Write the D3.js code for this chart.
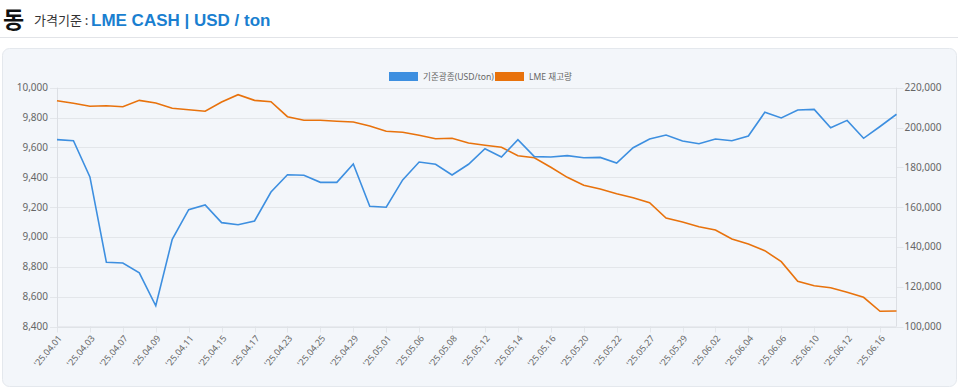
<!DOCTYPE html>
<html><head><meta charset="utf-8">
<script src="https://cdn.jsdelivr.net/npm/d3@7"></script>
<style>
body{margin:0;background:#fff;font-family:"Noto Sans","Noto Sans CJK KR",sans-serif;}
svg{display:block}
</style></head><body>
<svg id="c" width="960" height="390"></svg>
<script>
const dates = ["'25.04.01","'25.04.02","'25.04.03","'25.04.04","'25.04.07","'25.04.08","'25.04.09","'25.04.10","'25.04.11","'25.04.14","'25.04.15","'25.04.16","'25.04.17","'25.04.22","'25.04.23","'25.04.24","'25.04.25","'25.04.28","'25.04.29","'25.04.30","'25.05.01","'25.05.02","'25.05.06","'25.05.07","'25.05.08","'25.05.09","'25.05.12","'25.05.13","'25.05.14","'25.05.15","'25.05.16","'25.05.19","'25.05.20","'25.05.21","'25.05.22","'25.05.23","'25.05.27","'25.05.28","'25.05.29","'25.05.30","'25.06.02","'25.06.03","'25.06.04","'25.06.05","'25.06.06","'25.06.09","'25.06.10","'25.06.11","'25.06.12","'25.06.13","'25.06.16","'25.06.17"];
const priceValues = [9652,9645,9402,8830,8825,8760,8539,8984,9183,9214,9096,9082,9107,9301,9417,9413,9366,9366,9489,9205,9199,9382,9502,9487,9415,9487,9591,9536,9652,9538,9536,9545,9531,9533,9495,9598,9656,9683,9643,9625,9656,9645,9676,9835,9797,9851,9855,9732,9781,9661,9740,9822];
const stockValues = [213470,212160,210650,210960,210450,213650,212300,209640,208950,208140,212810,216480,213650,212960,205430,203620,203620,203120,202760,200750,198090,197590,196080,194380,194570,192210,191050,190050,185830,184830,180000,174970,170960,169100,166740,164730,162210,154520,152510,150150,148490,143970,141460,138090,132570,122710,120500,119500,117190,114680,107640,107790];
const leftTicks = [8400,8600,8800,9000,9200,9400,9600,9800,10000];
const rightTicks = [100000,120000,140000,160000,180000,200000,220000];
const seriesNames = ["기준광종(USD/ton)","LME 재고량"];
const colors = ["#3d8fe0","#e8720c"];

const svg = d3.select("#c");
// header
svg.append("text").attr("x",3).attr("y",28).attr("font-size",23).attr("font-weight","bold")
  .attr("font-family","'Noto Sans CJK KR'").attr("fill","#111").text("동");
svg.append("text").attr("x",34).attr("y",25).attr("font-size",13).attr("fill","#333")
  .attr("font-family","'Noto Sans CJK KR'").text("가격기준 :");
svg.append("text").attr("x",91).attr("y",25.5).attr("font-size",17).attr("font-weight","bold")
  .attr("fill","#1a7fd0").attr("font-family","'Liberation Sans',Arial,sans-serif").text("LME CASH | USD / ton");
svg.append("line").attr("x1",0).attr("x2",958).attr("y1",37.5).attr("y2",37.5).attr("stroke","#e2e4e8");
// container
svg.append("rect").attr("x",2.5).attr("y",48.5).attr("width",954).attr("height",338).attr("rx",7)
  .attr("fill","#f3f6fa").attr("stroke","#e4e8ed");

const L=57, R=896.5, T=87.7, B=326.5;
const x = d3.scalePoint().domain(dates).range([L,R]);
const yL = d3.scaleLinear().domain([8400,10000]).range([B,T]);
const yR = d3.scaleLinear().domain([100000,220000]).range([B,T]);
const fmt = d3.format(",");

// grid
const g = svg.append("g");
g.selectAll(".gl").data(leftTicks).join("line").attr("x1",L-7).attr("x2",R)
  .attr("y1",d=>Math.round(yL(d))+0.5).attr("y2",d=>Math.round(yL(d))+0.5).attr("stroke","#e3e6ea");
g.selectAll(".gx").data(dates.filter((d,i)=>i%2===0)).join("line")
  .attr("x1",d=>Math.round(x(d))+0.5).attr("x2",d=>Math.round(x(d))+0.5).attr("y1",B).attr("y2",B+6).attr("stroke","#e3e6ea");
g.selectAll(".gr").data(rightTicks).join("line").attr("x1",R).attr("x2",R+7)
  .attr("y1",d=>Math.round(yR(d))+0.5).attr("y2",d=>Math.round(yR(d))+0.5).attr("stroke","#e3e6ea");
g.append("line").attr("x1",L+0.5).attr("x2",L+0.5).attr("y1",T).attr("y2",B).attr("stroke","#dcdfe4");
g.append("line").attr("x1",R).attr("x2",R).attr("y1",T).attr("y2",B).attr("stroke","#dcdfe4");
g.append("line").attr("x1",L).attr("x2",R).attr("y1",B+0.5).attr("y2",B+0.5).attr("stroke","#dcdfe4");

// axis labels
const tf = "'Noto Sans','Noto Sans CJK KR',sans-serif";
g.selectAll(".tl").data(leftTicks).join("text").attr("x",L-9).attr("y",d=>yL(d)).attr("dy","0.35em")
  .attr("text-anchor","end").attr("font-size",10).attr("fill","#666").attr("font-family",tf).text(d=>fmt(d));
g.selectAll(".tr").data(rightTicks).join("text").attr("x",R+8).attr("y",d=>yR(d)).attr("dy","0.35em")
  .attr("text-anchor","start").attr("font-size",10).attr("fill","#666").attr("font-family",tf).text(d=>fmt(d));
g.selectAll(".tx").data(dates.filter((d,i)=>i%2===0)).join("text")
  .attr("transform",d=>`translate(${x(d)+3},${B+10}) rotate(-50)`)
  .attr("text-anchor","end").attr("dy","0.35em").attr("font-size",9).attr("fill","#666").attr("font-family",tf).text(d=>d);

// lines
const lineL = d3.line().x((d,i)=>x(dates[i])).y(d=>yL(d));
const lineR = d3.line().x((d,i)=>x(dates[i])).y(d=>yR(d));
svg.append("path").attr("d",lineR(stockValues)).attr("fill","none").attr("stroke",colors[1]).attr("stroke-width",1.6);
svg.append("path").attr("d",lineL(priceValues)).attr("fill","none").attr("stroke",colors[0]).attr("stroke-width",1.6);

// legend
const lg = svg.append("g");
const lx = [389,495];
seriesNames.forEach((n,i)=>{
  lg.append("rect").attr("x",lx[i]).attr("y",72).attr("width",29).attr("height",9).attr("fill",colors[i]);
  lg.append("text").attr("x",lx[i]+34).attr("y",76.5).attr("dy","0.35em").attr("font-size",8.6)
    .attr("fill","#666").attr("font-family",tf).text(n);
});
</script>
</body></html>
